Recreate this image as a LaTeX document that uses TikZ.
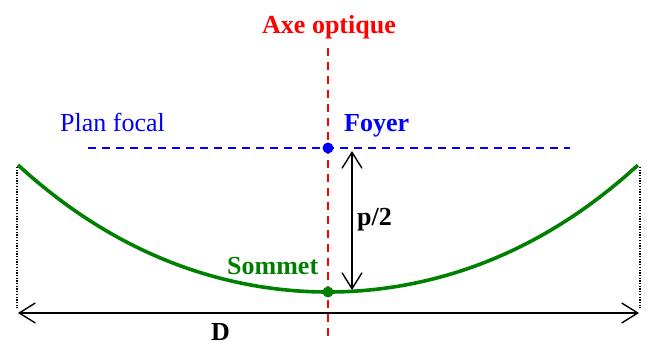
\documentclass[tikz,border=0pt]{standalone}
\usepackage{fontspec}
\setmainfont{Liberation Serif}
\usetikzlibrary{arrows.meta}
\definecolor{axered}{RGB}{255,0,0}
\definecolor{focblue}{RGB}{0,0,255}
\definecolor{mirgreen}{RGB}{0,128,0}
\begin{document}
\begin{tikzpicture}[x=1pt,y=-1pt,
  lbl/.style={anchor=base west,inner sep=0pt,font=\fontsize{26}{30}\selectfont},
  blbl/.style={lbl,font=\fontsize{26}{30}\selectfont\bfseries},
  dashline/.style={line width=1.5pt,dash pattern=on 8pt off 6pt},
  dim/.style={line width=1.4pt,{Straight Barb[length=16pt,width=20pt,line width=1.4pt]}-{Straight Barb[length=16pt,width=20pt,line width=1.4pt]}},
  guide/.style={line width=1.3pt,dash pattern=on 1.3pt off 1.4pt},
  dotmark/.style={circle,fill,inner sep=0pt,minimum size=11pt}]
\useasboundingbox (0,0) rectangle (651,347);
% optical axis
\coordinate (axtop) at (328,48);
\coordinate (axbot) at (328,338);
\draw[dashline,axered] (axtop) -- (axbot);
\node[blbl,text=axered] (axe) at (262,34) {Axe optique};
% focal plane
\coordinate (plL) at (88,148);
\coordinate (plR) at (570,148);
\draw[dashline,focblue] (plL) -- (plR);
\node[lbl,text=focblue] (plan) at (60,132) {Plan focal};
% mirror
\coordinate (mL) at (18,165);
\coordinate (mR) at (638,165);
\draw[mirgreen,line width=3.6pt] plot[domain=-1:1,samples=121,smooth] ({328+310*\x},{292-112*\x*\x-15*\x*\x*\x*\x});
\node[dotmark,fill=focblue] (foyer) at (328,148) {};
\node[dotmark,fill=mirgreen] (sommet) at (328,292) {};
\node[blbl,text=focblue] (foyerlbl) at (344,132) {Foyer};
\node[blbl,text=mirgreen] (sommetlbl) at (227,275) {Sommet};
% p/2
\coordinate (pTop) at (352,151);
\coordinate (pBot) at (352,290);
\draw[dim] (pTop) -- (pBot);
\node[blbl] (plabel) at (357,226) {p/2};
% D
\coordinate (gL) at (17,308);
\coordinate (gR) at (640,308);
\draw[guide] (mL) ++(-1,2) -- (gL);
\draw[guide] (mR) ++(2,2) -- (gR);
\coordinate (dL) at (18,313);
\coordinate (dR) at (639,313);
\draw[dim] (dL) -- (dR);
\node[blbl] (dlabel) at (211,341) {D};
\end{tikzpicture}
\end{document}
